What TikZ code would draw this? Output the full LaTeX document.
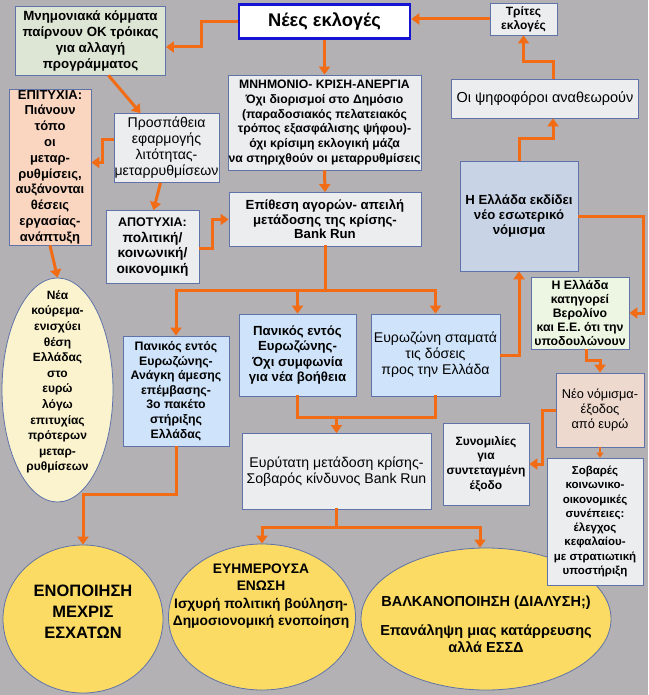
\documentclass[tikz,border=0pt]{standalone}
\usepackage{fontspec}
\setmainfont{Liberation Sans}
\usetikzlibrary{shapes.geometric,arrows.meta,calc}
\definecolor{bgc}{RGB}{179,177,179}
\definecolor{org}{RGB}{242,108,22}
\definecolor{bord}{RGB}{95,115,170}
\definecolor{gbox}{RGB}{236,237,239}
\definecolor{greenbox}{RGB}{221,230,212}
\definecolor{peach}{RGB}{250,214,192}
\definecolor{steel}{RGB}{200,212,230}
\definecolor{lgreen}{RGB}{236,246,226}
\definecolor{lblue}{RGB}{207,228,250}
\definecolor{pinkbox}{RGB}{238,217,206}
\definecolor{cream}{RGB}{251,243,206}
\definecolor{gold}{RGB}{251,219,100}
\definecolor{nblue}{RGB}{20,20,210}
\begin{document}
\begin{tikzpicture}[x=1pt,y=-1pt,
  box/.style={draw=bord,line width=0.8pt,fill=gbox,align=center,inner sep=0pt,font=\bfseries\fontsize{12}{15.5}\selectfont},
  ell/.style={ellipse,draw=bord,line width=0.8pt,inner sep=0pt},
  etext/.style={align=center,inner sep=0pt,font=\bfseries\fontsize{12}{15.6}\selectfont},
  conn/.style={draw=org,line width=3pt,-{Triangle[width=11pt,length=8pt]}},
  thinconn/.style={draw=org,line width=1.5pt,-{Triangle[width=7pt,length=5pt]}},
  wire/.style={draw=org,line width=3pt,line cap=rect},
]
\fill[bgc] (0,0) rectangle (648,695);
\useasboundingbox (0,0) rectangle (648,695);

% ellipses
\node[ell,fill=cream,minimum width=111pt,minimum height=224pt] (kour) at (57.5,390) {};
\node[etext] (kourt) at (57.5,382) {Νέα\\κούρεμα-\\ενισχύει\\θέση\\Ελλάδας\\στο\\ευρώ\\λόγω\\επιτυχίας\\πρότερων\\μεταρ-\\ρυθμίσεων};

\node[ell,fill=gold,minimum width=160pt,minimum height=148pt] (ell1) at (83,619) {};
\node[etext,font=\bfseries\fontsize{16.5}{21}\selectfont] (ell1t) at (83,612) {ΕΝΟΠΟΙΗΣΗ\\ΜΕΧΡΙΣ\\ΕΣΧΑΤΩΝ};
\node[ell,fill=gold,minimum width=187pt,minimum height=146pt] (ell2) at (262,617) {};
\node[etext,font=\bfseries\fontsize{13.8}{17.5}\selectfont] (ell2t) at (261,596) {ΕΥΗΜΕΡΟΥΣΑ\\ΕΝΩΣΗ\\Ισχυρή πολιτική βούληση-\\Δημοσιονομική ενοποίηση};
\node[ell,fill=gold,minimum width=250pt,minimum height=142pt] (ell3) at (486,619) {};
\node[etext,font=\bfseries\fontsize{14.5}{17}\selectfont] (ell3t) at (486,624) {ΒΑΛΚΑΝΟΠΟΙΗΣΗ (ΔΙΑΛΥΣΗ;)\\[12pt]Επανάληψη μιας κατάρρευσης\\αλλά ΕΣΣΔ};

% boxes
\node[box,fill=white,draw=nblue,line width=2.5pt,minimum width=171pt,minimum height=34pt,font=\bfseries\fontsize{18.3}{22}\selectfont] (nees) at (324.5,21.5) {Νέες εκλογές};
\node[box,fill=greenbox,minimum width=150pt,minimum height=69pt,font=\bfseries\fontsize{13.3}{16}\selectfont] (mnim) at (90.5,40.5) {Μνημονιακά κόμματα\\παίρνουν ΟΚ τρόικας\\για αλλαγή\\προγράμματος};
\node[box,minimum width=67pt,minimum height=32pt,font=\bfseries\fontsize{12}{14}\selectfont] (trites) at (523.5,19) {Τρίτες\\εκλογές};
\node[box,minimum width=193pt,minimum height=95pt,font=\bfseries\fontsize{12.2}{14.8}\selectfont] (mnimonio) at (324.5,122.5) {ΜΝΗΜΟΝΙΟ- ΚΡΙΣΗ-ΑΝΕΡΓΙΑ\\Όχι διορισμοί στο Δημόσιο\\(παραδοσιακός πελατειακός\\τρόπος εξασφάλισης ψήφου)-\\όχι κρίσιμη εκλογική μάζα\\να στηριχθούν οι μεταρρυθμίσεις};
\node[box,minimum width=187pt,minimum height=39pt,font=\fontsize{14.5}{17}\selectfont] (psif) at (545,98.5) {Οι ψηφοφόροι αναθεωρούν};
\node[box,fill=peach,minimum width=82pt,minimum height=156pt,font=\bfseries\fontsize{13}{15.8}\selectfont] (epit) at (50,167) {ΕΠΙΤΥΧΙΑ:\\Πιάνουν\\τόπο\\οι\\μεταρ-\\ρυθμίσεις,\\αυξάνονται\\θέσεις\\εργασίας-\\ανάπτυξη};
\node[box,minimum width=105pt,minimum height=69pt,font=\fontsize{14.1}{16}\selectfont] (prosp) at (166.5,148) {Προσπάθεια\\εφαρμογής\\λιτότητας-\\μεταρρυθμίσεων};
\node[box,minimum width=93pt,minimum height=73pt,font=\bfseries\fontsize{13.7}{15.5}\selectfont] (apot) at (152.5,247) {{\fontsize{12.5}{15.5}\selectfont ΑΠΟΤΥΧΙΑ:}\\πολιτική/\\κοινωνική/\\οικονομική};
\node[box,minimum width=192pt,minimum height=54pt,font=\bfseries\fontsize{13.2}{14.5}\selectfont] (epith) at (325,219.5) {Επίθεση αγορών- απειλή\\μετάδοσης της κρίσης-\\Bank Run};
\node[box,fill=steel,minimum width=118pt,minimum height=110pt,font=\bfseries\fontsize{13.2}{14.8}\selectfont] (ekdidei) at (519,216) {Η Ελλάδα εκδίδει\\νέο εσωτερικό\\νόμισμα};
\node[box,fill=lgreen,minimum width=98pt,minimum height=72pt,font=\bfseries\fontsize{12.3}{14.2}\selectfont] (katig) at (580,313) {Η Ελλάδα\\κατηγορεί\\Βερολίνο\\και Ε.Ε. ότι την\\υποδουλώνουν};
\node[box,fill=lblue,minimum width=106pt,minimum height=110pt,font=\bfseries\fontsize{12.3}{14.6}\selectfont] (pan1) at (176,391) {Πανικός εντός\\Ευρωζώνης-\\Ανάγκη άμεσης\\επέμβασης-\\3ο πακέτο\\στήριξης\\Ελλάδας};
\node[box,fill=lblue,minimum width=117pt,minimum height=82pt,font=\bfseries\fontsize{13.2}{15.5}\selectfont] (pan2) at (297.5,355) {Πανικός εντός\\Ευρωζώνης-\\Όχι συμφωνία\\για νέα βοήθεια};
\node[box,fill=lblue,minimum width=129pt,minimum height=82pt,font=\fontsize{14.1}{16}\selectfont] (evrz) at (435.5,355) {Ευρωζώνη σταματά\\τις δόσεις\\προς την Ελλάδα};
\node[box,fill=pinkbox,minimum width=88pt,minimum height=74pt,font=\fontsize{12.8}{15}\selectfont] (neonom) at (600,410) {Νέο νόμισμα-\\έξοδος\\από ευρώ};
\node[box,minimum width=86pt,minimum height=82pt,font=\bfseries\fontsize{12}{14.8}\selectfont] (synom) at (486,464) {Συνομιλίες\\για\\συντεταγμένη\\έξοδο};
\node[box,minimum width=189pt,minimum height=76pt,font=\fontsize{14.1}{16}\selectfont] (evryt) at (336.5,471.5) {Ευρύτατη μετάδοση κρίσης-\\Σοβαρός κίνδυνος Bank Run};
\node[box,minimum width=96pt,minimum height=127pt,font=\bfseries\fontsize{11.5}{14.3}\selectfont] (sovar) at (595,521.5) {Σοβαρές\\κοινωνικο-\\οικονομικές\\συνέπειες:\\έλεγχος\\κεφαλαίου-\\με στρατιωτική\\υποστήριξη};

% connectors
\draw[conn] (nees.west) -- ++(-36,0) |- ([yshift=-6.5pt]mnim.east);
\draw[conn] (nees.south) -- (mnimonio.north);
\draw[conn] (trites.west) -- (trites.west -| nees.east);
\draw[conn] ([xshift=8pt]psif.north) -- ++(0,-17) -| (trites.south);
\draw[conn] (ekdidei.north) -- ++(0,-22) -| ([xshift=8pt]psif.south);
\draw[conn] ([xshift=18pt]mnim.south) -- ([xshift=-26pt]prosp.north);
\draw[conn] ([yshift=8pt]prosp.west) -- ++(-11,0) |- ([yshift=4.5pt]epit.east);
\draw[conn] ([xshift=-6pt]prosp.south) -- ([xshift=1pt]apot.north);
\draw[conn] ([yshift=-1.5pt]apot.east) -- ++(13,0) |- (epith.west);
\draw[conn] (mnimonio.south) -- (epith.north);
\draw[conn] (epit.south) -- (kour.north);
\coordinate (s1) at ($(epith.south)+(0,44)$);
\draw[wire] (epith.south) -- (s1);
\draw[conn] (s1) -| (pan1.north);
\draw[conn] (s1) -| (evrz.north);
\draw[conn] (s1 -| pan2.north) -- (pan2.north);
\draw[conn] (pan1.south) -- ++(0,48) -| (ell1.north);
\coordinate (s2) at ($(pan2.south)+(0,21)$);
\draw[wire] (pan2.south) -- (s2) -| (evrz.south);
\draw[conn] (s2 -| evryt.north) -- (evryt.north);
\draw[conn] (evrz.east) -| (ekdidei.south);
\draw[conn] (ekdidei.east) -- ++(65,0) |- (katig.east);
\draw[conn] ([xshift=6pt]katig.south) -- ++(0,11) -| (neonom.north);
\draw[conn] (neonom.west) -- ++(-13,0) |- (synom.east);
\draw[thinconn] (neonom.south) -- (neonom.south |- sovar.north);
\coordinate (s3) at ($(evryt.south)+(0,18)$);
\draw[wire] (evryt.south) -- (s3);
\draw[conn] (s3) -| (ell2.north);
\draw[conn] (s3) -| ([xshift=-6pt]ell3.north);
\end{tikzpicture}
\end{document}
